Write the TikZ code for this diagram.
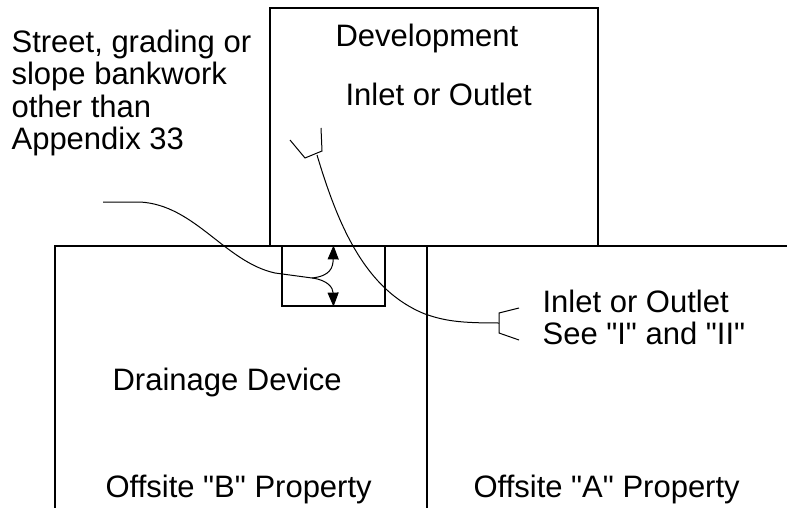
\documentclass[tikz,border=0pt]{standalone}
\usepackage{fontspec}
\setmainfont{Liberation Sans}
\usetikzlibrary{arrows.meta, positioning}

\begin{document}
\begin{tikzpicture}[x=1pt, y=-1pt, line width=1.2pt,
    lbl/.style={inner sep=0pt, font=\fontsize{31}{32.5}\selectfont},
    pipe/.style={line width=1pt},
    tip/.style={-{Triangle[length=14pt, width=11pt]}}]
    \useasboundingbox (0,0) rectangle (787,508);

    % development and the two offsite parcels
    \draw (270,246) |- (598,8) -- (598,246);
    \draw (55,508) |- (787,246);
    \draw (427,246) -- (427,508);

    % drainage device
    \node (device) [draw, minimum width=103pt, minimum height=60pt, inner sep=0pt] at (333.5,276) {};

    % labels
    \node (dev) [lbl, anchor=base west] at (335,47) {Development};
    \node (inletdev) [lbl, anchor=base west] at (345,106) {Inlet or Outlet};
    \node (street) [lbl, anchor=north west, align=left] at (11,29) {Street, grading or\\slope bankwork\\other than\\Appendix 33};
    \node (inletside) [lbl, anchor=north west, align=left] at (542,289) {Inlet or Outlet\\See \textquotedbl I\textquotedbl{} and \textquotedbl II\textquotedbl};
    \node (drainage) [lbl, anchor=base west] at (112,390) {Drainage Device};
    \node (offB) [lbl, anchor=base west] at (105,497) {Offsite \textquotedbl B\textquotedbl{} Property};
    \node (offA) [lbl, anchor=base west] at (473,497) {Offsite \textquotedbl A\textquotedbl{} Property};

    % leader from the street label into the device
    \coordinate (lead) at (103,202);
    \coordinate (split) at (312,278);
    \draw[pipe] (lead) -- (140,202) .. controls (195,205) and (225,262) .. (275,273) -- (split);
    \draw[pipe, tip] (split) .. controls (330,276) and (333,268) .. (device.north);
    \draw[pipe, tip] (split) .. controls (328,280) and (333,288) .. (device.south);

    % pipe between the two inlets
    \coordinate (forkA) at (317,155);
    \coordinate (forkB) at (499,323);
    \draw[pipe] (forkA) ++(-27,-15) -- ++(15,18) -- ++(17,-7) -- ++(-1,-23);
    \draw[pipe] (forkB) ++(20,-15) -- ++(-20,5) -- ++(0,20) -- ++(20,7);
    \draw[pipe] (forkA) .. controls (338,225) and (365,290) .. (425,314) .. controls (445,321) and (460,323) .. (forkB);
\end{tikzpicture}
\end{document}
